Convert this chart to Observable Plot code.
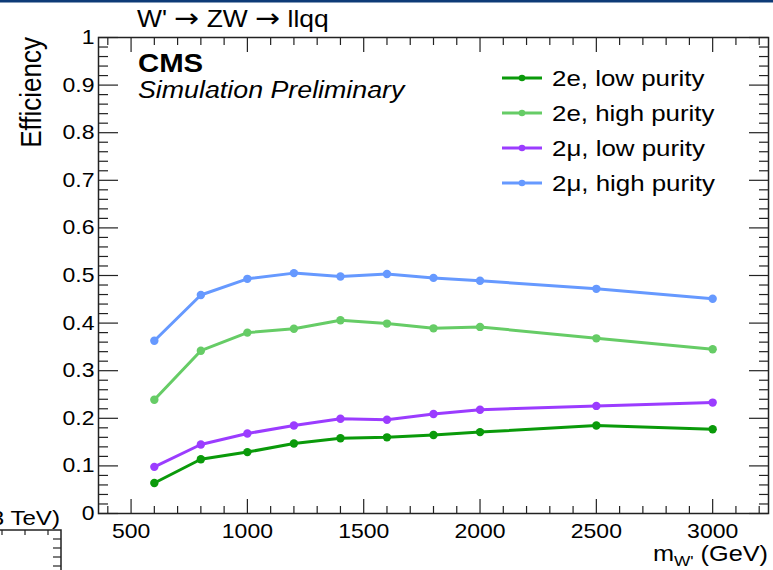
<!DOCTYPE html>
<html>
<head>
<meta charset="utf-8">
<script src="https://cdn.jsdelivr.net/npm/d3@7"></script>
<script src="https://cdn.jsdelivr.net/npm/@observablehq/plot@0.6"></script>
<style>
  html, body { margin: 0; padding: 0; background: #fff; }
  svg { display: block; }
</style>
</head>
<body>
<div id="chart"></div>
<script>
// W' signal mass points (GeV)
const masses = [600, 800, 1000, 1200, 1400, 1600, 1800, 2000, 2500, 3000];

// Selection efficiency per channel and purity category
const eleLowPurity  = [0.064, 0.114, 0.129, 0.147, 0.158, 0.160, 0.165, 0.171, 0.185, 0.177];
const eleHighPurity = [0.239, 0.342, 0.380, 0.388, 0.406, 0.399, 0.389, 0.392, 0.368, 0.345];
const muLowPurity   = [0.098, 0.145, 0.168, 0.185, 0.199, 0.197, 0.209, 0.218, 0.226, 0.233];
const muHighPurity  = [0.363, 0.459, 0.493, 0.505, 0.498, 0.503, 0.495, 0.489, 0.472, 0.451];

const seriesNames  = ["2e, low purity", "2e, high purity", "2\u03bc, low purity", "2\u03bc, high purity"];
const seriesValues = [eleLowPurity, eleHighPurity, muLowPurity, muHighPurity];
const seriesColors = ["#0a9a0a", "#66cc66", "#9b3cff", "#6699ff"];

// Axis ticks
const xMajorTicks = [500, 1000, 1500, 2000, 2500, 3000];
const xMinorTicks = d3.range(400, 3201, 100).filter(v => v % 500 !== 0);
const yMajorTicks = [0, 0.1, 0.2, 0.3, 0.4, 0.5, 0.6, 0.7, 0.8, 0.9, 1];
const yMinorTicks = d3.range(0, 50).map(i => i * 0.02).filter((v, i) => i % 5 !== 0);

const rows = seriesNames.flatMap((name, s) =>
  masses.map((m, i) => ({series: name, mass: m, eff: seriesValues[s][i]}))
);

const W = 773, H = 570;
const mL = 98, mR = 5, mT = 37, mB = 57;
const frameW = W - mL - mR, frameH = H - mT - mB;
const FONT = "'Liberation Sans', Arial, Helvetica, sans-serif";
const SX = 1.15; // horizontal text stretch of the canvas

const plot = Plot.plot({
  width: W,
  height: H,
  marginLeft: mL,
  marginRight: mR,
  marginTop: mT,
  marginBottom: mB,
  style: {fontFamily: FONT, color: "#000", background: "#fff"},
  x: {domain: [360, 3240], label: null},
  y: {domain: [0, 1], label: null},
  color: {domain: seriesNames, range: seriesColors},
  marks: [
    // inward ticks on all four sides
    Plot.ruleX(xMajorTicks, {insetTop: frameH - 14, stroke: "#222", strokeWidth: 1.2}),
    Plot.ruleX(xMinorTicks, {insetTop: frameH - 7, stroke: "#222", strokeWidth: 1.2}),
    Plot.ruleX(xMajorTicks, {insetBottom: frameH - 15, stroke: "#222", strokeWidth: 1.2}),
    Plot.ruleX(xMinorTicks, {insetBottom: frameH - 8, stroke: "#222", strokeWidth: 1.2}),
    Plot.ruleY(yMajorTicks, {insetRight: frameW - 20, stroke: "#222", strokeWidth: 1.2}),
    Plot.ruleY(yMinorTicks, {insetRight: frameW - 10, stroke: "#222", strokeWidth: 1.2}),
    Plot.ruleY(yMajorTicks, {insetLeft: frameW - 19, stroke: "#222", strokeWidth: 1.2}),
    Plot.ruleY(yMinorTicks, {insetLeft: frameW - 9, stroke: "#222", strokeWidth: 1.2}),
    Plot.frame({stroke: "#222", strokeWidth: 1.5}),
    Plot.axisX({ticks: xMajorTicks, tickSize: 0, tickPadding: 10, fontSize: 20,
      tickFormat: d => String(d)}),
    Plot.axisY({ticks: yMajorTicks, tickSize: 0, tickPadding: 4, fontSize: 20,
      tickFormat: d => (d === 0 || d === 1) ? String(d) : d.toFixed(1)}),
    Plot.line(rows, {x: "mass", y: "eff", z: "series", stroke: "series", strokeWidth: 3}),
    Plot.dot(rows, {x: "mass", y: "eff", fill: "series", r: 4.2})
  ]
});

// stretch every axis label about its own anchor
plot.querySelectorAll("text").forEach(t => {
  const tr = t.getAttribute("transform") || "";
  t.setAttribute("transform", tr + ` scale(${SX},1)`);
});

const svg = d3.select(plot);

function addText(x, y, str, opts = {}) {
  const t = svg.append("text")
    .attr("transform", `translate(${x},${y}) scale(${SX},1)` + (opts.rotate ? ` rotate(${opts.rotate})` : ""))
    .attr("font-family", FONT)
    .attr("font-size", opts.size || 20)
    .attr("fill", "#000")
    .attr("text-anchor", opts.anchor || "start");
  if (opts.weight) t.attr("font-weight", opts.weight);
  if (opts.style) t.attr("font-style", opts.style);
  if (str !== null) t.text(str);
  return t;
}

// header band
svg.append("rect").attr("x", 0).attr("y", 0).attr("width", W).attr("height", 2.5).attr("fill", "#0d3b77");

// process title, arrows drawn from a font with a full-width arrow glyph
const title = addText(137, 27, null, {size: 23});
title.append("tspan").text("W' ");
title.append("tspan").attr("font-family", "'DejaVu Sans', sans-serif").attr("font-size", 26).text("\u2192");
title.append("tspan").text(" ZW ");
title.append("tspan").attr("font-family", "'DejaVu Sans', sans-serif").attr("font-size", 26).text("\u2192");
title.append("tspan").text(" llqq");

// experiment label
addText(138, 72, "CMS", {size: 25.5, weight: "bold"});
addText(138, 98, "Simulation Preliminary", {size: 23.3, style: "italic"});

// axis titles
addText(41, 37, "Efficiency", {size: 26, anchor: "end", rotate: -90});
const xt = addText(768, 561, null, {size: 22, anchor: "end"});
xt.append("tspan").text("m");
xt.append("tspan").attr("dy", 5).attr("font-size", 15).text("W'");
xt.append("tspan").attr("dy", -5).text(" (GeV)");

// legend
const legend = svg.append("g");
seriesNames.forEach((name, i) => {
  const y = 78 + i * 35;
  legend.append("line").attr("x1", 502).attr("x2", 542).attr("y1", y).attr("y2", y)
    .attr("stroke", seriesColors[i]).attr("stroke-width", 3);
  legend.append("circle").attr("cx", 522).attr("cy", y).attr("r", 3.3).attr("fill", seriesColors[i]);
  addText(552, y + 8, name, {size: 22.5});
});

// neighbouring panel edge at the lower left
const nb = svg.append("g").attr("stroke", "#222").attr("stroke-width", 1.5).attr("fill", "none");
nb.append("path").attr("d", "M0,530H61V570");
[2, 25, 48].forEach(x => nb.append("path").attr("d", `M${x},530V535`).attr("stroke-width", 1.2));
[539, 548, 557, 566].forEach(y => nb.append("path").attr("d", `M61,${y}H53`).attr("stroke-width", 1.2));
addText(60, 525, "(13 TeV)", {size: 21, anchor: "end"});

document.getElementById("chart").appendChild(plot);
</script>
</body>
</html>
